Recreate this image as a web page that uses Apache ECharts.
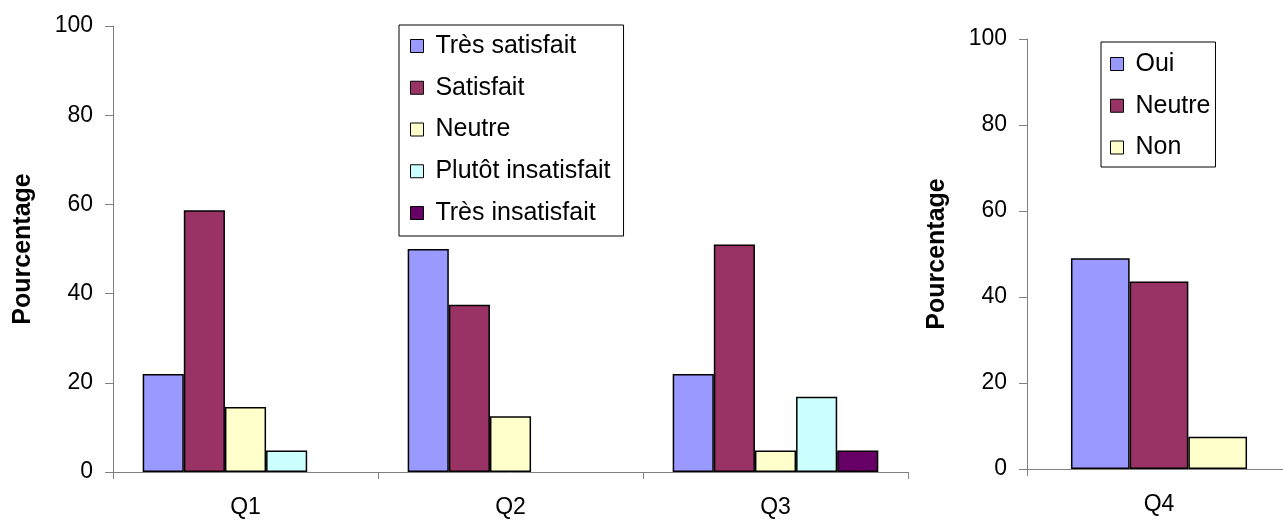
<!DOCTYPE html>
<html>
<head>
<meta charset="utf-8">
<script src="https://cdn.jsdelivr.net/npm/echarts@6/dist/echarts.min.js"></script>
<style>
  html, body { margin: 0; padding: 0; background: #fff; }
</style>
</head>
<body>
<!-- deux graphiques côte à côte dans une seule instance -->
<div id="container" style="width: 1283px;height:520px;"></div>
<script>
  // Q1 à Q3 : satisfaction
  var categories = ['Q1', 'Q2', 'Q3'];
  var tresSatisfait = [22, 50, 22];
  var satisfait = [58.7, 37.5, 51];
  var neutre = [14.6, 12.5, 4.8];
  var plutotInsatisfait = [4.8, null, 16.9];
  var tresInsatisfait = [null, null, 4.8];

  // Q4 : oui / neutre / non
  var categoriesQ4 = ['Q4'];
  var oui = [49];
  var neutreQ4 = [43.6];
  var non = [7.5];

  var yTicks = [0, 20, 40, 60, 80, 100];

  var font = "'Liberation Sans', Arial, sans-serif";
  var axisGray = '#808080';

  function valueAxis(gridIndex) {
    return {
      type: 'value',
      gridIndex: gridIndex,
      min: yTicks[0],
      max: yTicks[yTicks.length - 1],
      interval: yTicks[1] - yTicks[0],
      name: 'Pourcentage',
      nameLocation: 'middle',
      nameRotate: 90,
      nameGap: 77,
      nameTextStyle: {fontFamily: font, fontSize: 25, fontWeight: 'bold', color: '#000'},
      axisLine: {show: true, lineStyle: {color: axisGray, width: 1}},
      axisTick: {show: true, length: 8, lineStyle: {color: axisGray}},
      axisLabel: {fontFamily: font, fontSize: 23, color: '#000', margin: 20},
      splitLine: {show: false}
    };
  }

  function catAxis(gridIndex, data) {
    return {
      type: 'category',
      gridIndex: gridIndex,
      data: data,
      axisLine: {lineStyle: {color: axisGray, width: 1}},
      axisTick: {show: true, length: 7, lineStyle: {color: axisGray}},
      axisLabel: {fontFamily: font, fontSize: 23, color: '#000', margin: 24}
    };
  }

  function bar(name, data, color, idx, gap) {
    return {
      type: 'bar',
      name: name,
      data: data,
      xAxisIndex: idx,
      yAxisIndex: idx,
      barGap: '0%',
      barCategoryGap: gap,
      itemStyle: {color: color, borderColor: '#000', borderWidth: 1.5},
      emphasis: {disabled: true}
    };
  }

  var legendText = {fontFamily: font, fontSize: 25, color: '#000'};

  var myChart = echarts.init(document.getElementById('container'));
  myChart.setOption({
    animation: false,
    grid: [
      {left: 113, top: 26, width: 795, bottom: 48, outerBoundsMode: 'none'},
      // le graphique Q4 déborde un peu à droite du cadre, comme l'original
      {left: 1027, top: 39, width: 264, bottom: 51, outerBoundsMode: 'none'}
    ],
    xAxis: [catAxis(0, categories), catAxis(1, categoriesQ4)],
    yAxis: [valueAxis(0), valueAxis(1)],
    legend: [
      {
        orient: 'vertical',
        left: 399,
        top: 25,
        padding: [8.5, 13, 10.5, 11],
        itemGap: 16.75,
        icon: 'rect',
        itemWidth: 13,
        itemHeight: 13,
        borderColor: '#000',
        borderWidth: 1,
        formatter: ' {name}',
        textStyle: legendText,
        itemStyle: {borderWidth: 1},
        data: ['Très satisfait', 'Satisfait', 'Neutre', 'Plutôt insatisfait', 'Très insatisfait']
      },
      {
        orient: 'vertical',
        left: 1101,
        top: 42,
        padding: [9.5, 5, 7, 9],
        itemGap: 16.75,
        icon: 'rect',
        itemWidth: 13,
        itemHeight: 13,
        borderColor: '#000',
        borderWidth: 1,
        // le nom interne évite le conflit avec "Neutre" du premier graphique
        formatter: function (name) {
          return ' ' + name.replace(' (Q4)', '');
        },
        textStyle: legendText,
        itemStyle: {borderWidth: 1},
        data: ['Oui', 'Neutre (Q4)', 'Non']
      }
    ],
    series: [
      bar('Très satisfait', tresSatisfait, '#9999FF', 0, '22.4%'),
      bar('Satisfait', satisfait, '#993366', 0, '22.4%'),
      bar('Neutre', neutre, '#FFFFCC', 0, '22.4%'),
      bar('Plutôt insatisfait', plutotInsatisfait, '#CCFFFF', 0, '22.4%'),
      bar('Très insatisfait', tresInsatisfait, '#660066', 0, '22.4%'),
      bar('Oui', oui, '#9999FF', 1, '33.3%'),
      bar('Neutre (Q4)', neutreQ4, '#993366', 1, '33.3%'),
      bar('Non', non, '#FFFFCC', 1, '33.3%')
    ]
  });
</script>
</body>
</html>
